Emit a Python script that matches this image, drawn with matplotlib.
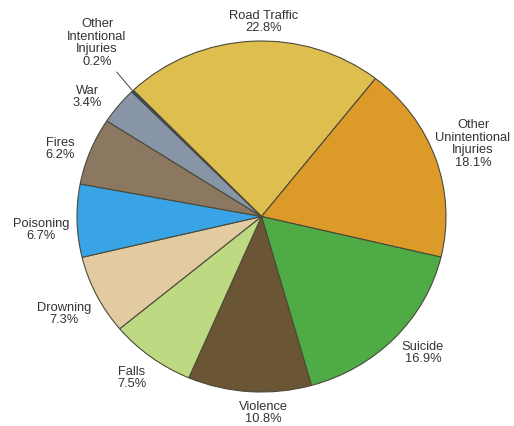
import numpy as np
import matplotlib
matplotlib.use("Agg")
import matplotlib.pyplot as plt

# Injury deaths by cause (percent of total), clockwise from the top
causes = ["Road Traffic", "Other\nUnintentional\nInjuries", "Suicide", "Violence",
          "Falls", "Drowning", "Poisoning", "Fires", "War",
          "Other\nIntentional\nInjuries"]
shares = [22.8, 18.1, 16.9, 10.8, 7.5, 7.3, 6.7, 6.2, 3.4, 0.2]
colors = ["#DDBE4E", "#DC9A28", "#4FAB45", "#6A5634", "#BDD981",
          "#E2CBA0", "#38A4E6", "#8C7860", "#8795A6", "#2F4785"]

W, H = 514, 427
fig = plt.figure(figsize=(W / 100, H / 100), dpi=100)
fig.patch.set_facecolor("white")

# pie occupies pixels x 77..446, y 42..393
ax = fig.add_axes([77 / W, (H - 393) / H, 369 / W, 351 / H])
wedges, _ = ax.pie(shares, colors=colors, startangle=134, counterclock=False,
                   wedgeprops=dict(edgecolor="#4a4a3a", linewidth=0.8))
ax.set_aspect("auto")
ax.set_xlim(-1, 1)
ax.set_ylim(-1, 1)
ax.axis("off")

# label centres in pixel coordinates
label_px = [(264, 22), (473, 144), (423, 353), (263, 413), (132, 378),
            (64, 314), (41, 230), (60, 149), (87, 97), (97, 43)]

font = dict(family="Liberation Sans", fontsize=9.3, color="#333333",
            ha="center", va="center", linespacing=1.06)
for name, val, (px, py) in zip(causes, shares, label_px):
    fig.text(px / W, 1 - py / H, f"{name}\n{val}%", **font)

# leader line for the smallest slice
w = wedges[-1]
mid = np.deg2rad((w.theta1 + w.theta2) / 2)
ax.annotate("", xy=(np.cos(mid) * 0.99, np.sin(mid) * 0.99), xycoords="data",
            xytext=(115 / W, 1 - 71 / H), textcoords="figure fraction",
            arrowprops=dict(arrowstyle="-", color="#555555", lw=0.8))

fig.savefig("out.png", dpi=100, facecolor="white")
